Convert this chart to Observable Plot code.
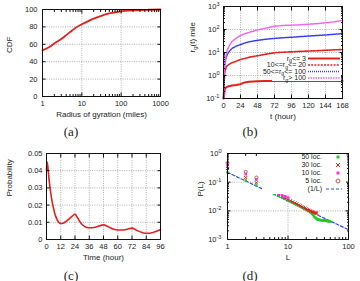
<!DOCTYPE html>
<html>
<head>
<meta charset="utf-8">
<script src="https://cdn.jsdelivr.net/npm/d3@7"></script>
<script src="https://cdn.jsdelivr.net/npm/@observablehq/plot@0.6"></script>
<style>
  html, body { margin: 0; padding: 0; background: #fff; }
  #fig { position: relative; width: 360px; height: 281px; overflow: hidden; }
  #fig svg { position: absolute; }
  .tag { position: absolute; font-family: "Liberation Serif", "Times New Roman", serif; font-size: 13px; line-height: 1; color: #222; transform: translateX(-50%); white-space: nowrap; }
</style>
</head>
<body>
<div id="fig"></div>
<script>
// (a) cumulative distribution of the radius of gyration
const gyrationMiles = [1, 1.5, 2, 3, 4, 5, 7, 10, 15, 20, 30, 50, 70, 100, 150, 200, 300, 500, 1000];
const gyrationCdf   = [53, 57, 61, 66, 70.5, 74, 79, 83, 87, 89.5, 92.5, 95.5, 96.8, 97.8, 98.6, 99, 99.4, 99.7, 100];

// (b) radius of gyration r_g(t) over time, by final r_g group
const hours    = [0, 1, 2, 4, 6, 9, 12, 18, 24, 30, 36, 48, 60, 72, 84, 96, 108, 120, 132, 144, 156, 168];
const rgUpTo3  = [0.1, 0.15, 0.26, 0.31, 0.33, 0.35, 0.37, 0.39, 0.42, 0.5, 0.53, 0.56, 0.57, 0.57, 0.57, 0.57, 0.57, 0.57, 0.58, 0.58, 0.58, 0.58];
const rg10to20 = [0.1, 0.6, 1.5, 2.4, 2.8, 3.2, 3.6, 4.2, 5.0, 5.5, 6.2, 7.2, 8.5, 9.8, 10.3, 10.7, 11.2, 11.6, 12.0, 12.5, 13.0, 13.5];
const rg50to100 = [0.1, 1.2, 3.5, 6.5, 9, 12, 15, 19, 22, 26, 29, 34, 38, 41, 44, 46, 49, 52, 55, 58, 62, 66];
const rgOver100 = [0.1, 1.5, 4, 9, 14, 22, 30, 42, 55, 65, 75, 95, 115, 140, 150, 155, 160, 170, 180, 195, 215, 250];
const rgGroups = ["r_g<= 3", "10<=r_g<= 20", "50<=r_g<= 100", "r_g> 100"];

// (c) probability of returning after a given time
const returnHours = [0, 0.5, 1, 2, 3, 4, 5, 6, 7, 8, 9, 10, 11, 12, 14, 16, 18, 20, 22, 24, 26, 28, 30, 32, 34, 36, 40, 44, 48, 52, 56, 60, 64, 68, 72, 76, 80, 84, 88, 92, 96];
const returnProb  = [0.040, 0.045, 0.043, 0.036, 0.030, 0.025, 0.021, 0.018, 0.015, 0.013, 0.0115, 0.0102, 0.0096, 0.0093, 0.0095, 0.0103, 0.0114, 0.0126, 0.0138, 0.0147, 0.0128, 0.0105, 0.0087, 0.0076, 0.0070, 0.0068, 0.0070, 0.0078, 0.0085, 0.0074, 0.0061, 0.0055, 0.0055, 0.0060, 0.0066, 0.0053, 0.0042, 0.0036, 0.0038, 0.0046, 0.0058];

// (d) visit probability P(L) of the L-th most visited location (index 0 is L = 1)
const loc50 = [0.22, 0.115, 0.077, 0.058, 0.046, 0.038, 0.033, 0.029, 0.026, 0.023, 0.021, 0.019, 0.0175, 0.0163, 0.0152, 0.0142, 0.0133, 0.0125, 0.0118, 0.0111, 0.0105, 0.0099, 0.0093, 0.0087, 0.0079, 0.0071, 0.0064, 0.0059, 0.0055, 0.0052, 0.0050, 0.0049, 0.0048, 0.0048, 0.0047, 0.0047, 0.0047, 0.0046, 0.0046, 0.0046, 0.0045, 0.0045, 0.0045, 0.0045, 0.0044, 0.0044, 0.0044, 0.0043, 0.0043, 0.0042];
const loc30 = [0.30, 0.145, 0.095, 0.069, 0.054, 0.044, 0.037, 0.032, 0.028, 0.025, 0.0225, 0.0205, 0.0188, 0.0174, 0.0161, 0.015, 0.014, 0.0131, 0.0123, 0.0116, 0.011, 0.0105, 0.0101, 0.0097, 0.0093, 0.009, 0.0088, 0.0086, 0.0084, 0.0082];
const loc10 = [0.39, 0.19, 0.124, 0.09, 0.062, 0.045, 0.039, 0.035, 0.032, 0.029];
const loc5  = [0.47, 0.23, 0.145, 0.103, 0.085];
const zipfL = [1, 100];
const zipfP = [0.22, 0.0022];
const visitGroups = ["50 loc.", "30 loc.", "10 loc.", "5 loc.", "(1/L)"];

// tick values
const cdfTicks = [0, 20, 40, 60, 80, 100];
const radiusTicks = [1, 10, 100, 1000];
const hourTicks = [0, 24, 48, 72, 96, 120, 144, 168];
const rgTicks = [0.1, 1, 10, 100, 1000];
const lagTicks = [0, 12, 24, 36, 48, 60, 72, 84, 96];
const probTicks = [0, 0.01, 0.02, 0.03, 0.04, 0.05];
const rankTicks = [1, 10, 100];
const pTicks = [0.001, 0.01, 0.1, 1];

const FONT = '"Liberation Sans", Arial, Helvetica, sans-serif';
const INK = "#222";
const RED = "#e3201c";
const NS = "http://www.w3.org/2000/svg";

function minorLog(lo, hi) {
  const out = [];
  for (let d = lo; d < hi; d *= 10) for (let k = 2; k <= 9; k++) out.push(d * k);
  return out;
}

// short ticks drawn inside the frame on all four sides
function insideTicks(xs, ys, size) {
  const o = {tickSize: size, tickFormat: () => "", label: null, stroke: "#111"};
  return [
    Plot.axisX(xs, {...o, anchor: "bottom", dy: -size}),
    Plot.axisX(xs, {...o, anchor: "top", dy: size}),
    Plot.axisY(ys, {...o, anchor: "left", dx: size}),
    Plot.axisY(ys, {...o, anchor: "right", dx: -size})
  ];
}

function grid(xs, ys) {
  const g = {stroke: "#999", strokeOpacity: 1, strokeWidth: 0.8, strokeDasharray: "1,1.3"};
  return [Plot.gridX(xs, g), Plot.gridY(ys, g)];
}

function labels(xLabel, yLabel, yDx) {
  return [
    Plot.text([xLabel], {text: d => d, frameAnchor: "bottom", dy: 20, fontSize: 8, fill: INK}),
    Plot.text([yLabel], {text: d => d, frameAnchor: "left", dx: yDx, rotate: -90, fontSize: 8, fill: INK})
  ];
}

function tickLabels(xs, ys, xf, yf, yPad) {
  return [
    Plot.axisX(xs, {anchor: "bottom", tickSize: 0, tickPadding: 4, tickFormat: xf, label: null, fill: INK, fontSize: 7.5}),
    Plot.axisY(ys, {anchor: "left", tickSize: 0, tickPadding: yPad, tickFormat: yf, label: null, fill: INK, fontSize: 7.5})
  ];
}

// sub/superscripts: "r_g" and "10^{-1}"
function richText(el, str, subShift = 2) {
  el.textContent = "";
  const parts = str.split(/([_^]\{[^}]*\}|[_^].)/).filter(s => s);
  let cur = 0;
  for (const p of parts) {
    const t = document.createElementNS(NS, "tspan");
    let target = 0, s = p;
    if (p[0] === "_" || p[0] === "^") {
      s = p[1] === "{" ? p.slice(2, -1) : p.slice(1);
      target = p[0] === "_" ? subShift : -3;
      t.setAttribute("font-size", "75%");
    }
    t.textContent = s;
    if (target !== cur) t.setAttribute("dy", target - cur);
    cur = target;
    el.appendChild(t);
  }
}
function applyRich(svg) {
  svg.querySelectorAll("text").forEach(el => {
    if (el.children.length) return;
    const s = el.textContent;
    if (/[_^]/.test(s)) richText(el, s);
  });
}

const logFmt = d => "10^{" + Math.round(Math.log10(d)) + "}";
const style = {fontFamily: FONT, fontSize: "7.5px", color: INK, background: "transparent", overflow: "visible"};
const fig = document.getElementById("fig");

function place(svg, left, top) {
  svg.style.left = left + "px";
  svg.style.top = top + "px";
  fig.appendChild(svg);
  applyRich(svg);
  return svg;
}

// ---- (a)
const cdfRows = gyrationMiles.map((r, i) => ({r, c: gyrationCdf[i]}));
place(Plot.plot({
  width: 180, height: 140, marginLeft: 42, marginRight: 20, marginTop: 9, marginBottom: 44,
  style,
  x: {type: "log", domain: [1, 1000]},
  y: {domain: [0, 100]},
  marks: [
    ...grid([10, 100], [20, 40, 60, 80]),
    Plot.line(cdfRows, {x: "r", y: "c", stroke: RED, strokeWidth: 1.8, curve: "monotone-x"}),
    ...insideTicks(radiusTicks, cdfTicks, 3.5),
    ...insideTicks(minorLog(1, 1000), [], 2),
    Plot.frame({stroke: "#111"}),
    ...tickLabels(radiusTicks, cdfTicks, d => String(d), d => String(d), 5),
    ...labels("Radius of gyration (miles)", "CDF", -33)
  ]
}), 0, 0);

// ---- (b)
const rgStyles = [
  {stroke: RED, strokeWidth: 2, dash: null},
  {stroke: RED, strokeWidth: 1.6, dash: "2,1.2"},
  {stroke: "#3a3aff", strokeWidth: 1.5, dash: "1,1"},
  {stroke: "#f065f0", strokeWidth: 1.5, dash: "1.5,1"}
];
const rgSeries = [rgUpTo3, rg10to20, rg50to100, rgOver100];
const rgRows = rgSeries.flatMap((vals, g) => hours.map((t, i) => ({t, v: vals[i], g})));
const svgB = place(Plot.plot({
  width: 180, height: 140, marginLeft: 43, marginRight: 18, marginTop: 6, marginBottom: 42,
  style,
  x: {domain: [0, 168]},
  y: {type: "log", domain: [0.1, 1000]},
  marks: [
    ...grid([24, 48, 72, 96, 120, 144], [1, 10, 100]),
    ...rgStyles.map((s, g) => Plot.line(rgRows.filter(d => d.g === g), {
      x: "t", y: "v", stroke: s.stroke, strokeWidth: s.strokeWidth, strokeDasharray: s.dash
    })),
    ...insideTicks(hourTicks, rgTicks, 3.5),
    ...insideTicks([], minorLog(0.1, 1000), 2),
    Plot.frame({stroke: "#111"}),
    ...tickLabels(hourTicks, rgTicks, d => String(d), logFmt, 4),
    ...labels("t (hour)", "r_g(t) mile", -31)
  ]
}), 180, 0);

{
  const g = d3.select(svgB).append("g").attr("font-family", FONT).attr("font-size", 7).attr("fill", INK);
  g.append("rect").attr("x", 92).attr("y", 55).attr("width", 69).attr("height", 26).attr("fill", "#fff");
  rgGroups.forEach((name, i) => {
    const y = 58.5 + i * 6.5;
    const t = g.append("text").attr("x", 126).attr("y", y).attr("dy", "0.35em").attr("text-anchor", "end");
    richText(t.node(), name, 1.5);
    const s = rgStyles[i];
    g.append("line").attr("x1", 128).attr("x2", 160).attr("y1", y).attr("y2", y)
      .attr("stroke", s.stroke).attr("stroke-width", s.strokeWidth).attr("stroke-dasharray", s.dash);
  });
}

// ---- (c)
const returnRows = returnHours.map((t, i) => ({t, p: returnProb[i]}));
place(Plot.plot({
  width: 180, height: 141, marginLeft: 46, marginRight: 20, marginTop: 13, marginBottom: 42,
  style,
  x: {domain: [0, 96]},
  y: {domain: [0, 0.05]},
  marks: [
    ...grid([12, 24, 36, 48, 60, 72, 84], [0.01, 0.02, 0.03, 0.04]),
    Plot.line(returnRows, {x: "t", y: "p", stroke: RED, strokeWidth: 1.6, curve: "monotone-x"}),
    ...insideTicks(lagTicks, probTicks, 3.5),
    Plot.frame({stroke: "#111"}),
    ...tickLabels(lagTicks, probTicks, d => String(d), d => d === 0 ? "0" : d.toFixed(2), 4),
    ...labels("Time (hour)", "Probability", -37)
  ]
}), 0, 140);

// ---- (d)
const visitStyles = [
  {fill: "#22cc22", stroke: "none", symbol: "square", r: 1.4},
  {fill: "none", stroke: "#e02020", symbol: "times", r: 1.5},
  {fill: "#ee33ee", stroke: "none", symbol: "square", r: 1.5},
  {fill: "none", stroke: "#c05858", symbol: "circle", r: 1.5}
];
const visitSeries = [loc50, loc30, loc10, loc5];
const zipfRows = zipfL.map((l, i) => ({l, p: zipfP[i]}));
const svgD = place(Plot.plot({
  width: 180, height: 141, marginLeft: 47, marginRight: 12, marginTop: 13, marginBottom: 42,
  style,
  x: {type: "log", domain: [1, 100]},
  y: {type: "log", domain: [0.001, 1]},
  marks: [
    ...grid([10], [0.01, 0.1]),
    Plot.line(zipfRows, {x: "l", y: "p", stroke: "#3050e0", strokeWidth: 1.2, strokeDasharray: "3,2"}),
    ...visitSeries.map((vals, g) => Plot.dot(vals.map((p, i) => ({l: i + 1, p})), {
      x: "l", y: "p", symbol: visitStyles[g].symbol, r: visitStyles[g].r,
      fill: visitStyles[g].fill, stroke: visitStyles[g].stroke, strokeWidth: 1
    })),
    ...insideTicks(rankTicks, pTicks, 3.5),
    ...insideTicks(minorLog(1, 100), minorLog(0.001, 1), 2),
    Plot.frame({stroke: "#111"}),
    ...tickLabels(rankTicks, pTicks, d => String(d), logFmt, 6),
    ...labels("L", "P(L)", -27)
  ]
}), 180, 140);

{
  const g = d3.select(svgD).append("g").attr("font-family", FONT).attr("font-size", 7).attr("fill", INK);
  g.append("rect").attr("x", 82).attr("y", 14).attr("width", 84).attr("height", 40).attr("fill", "#fff");
  visitGroups.forEach((name, i) => {
    const y = 17 + i * 8;
    g.append("text").attr("x", 142).attr("y", y).attr("dy", "0.35em").attr("text-anchor", "end").text(name);
    if (i < 4) {
      const s = visitStyles[i];
      const sym = {square: d3.symbolSquare, times: d3.symbolTimes, circle: d3.symbolCircle}[s.symbol];
      g.append("path").attr("transform", `translate(158,${y})`)
        .attr("d", d3.symbol(sym, s.symbol === "square" ? 9 : 12)())
        .attr("fill", s.fill).attr("stroke", s.stroke);
    } else {
      g.append("line").attr("x1", 146).attr("x2", 162).attr("y1", y).attr("y2", y)
        .attr("stroke", "#3050e0").attr("stroke-width", 1.2).attr("stroke-dasharray", "3,2");
    }
  });
}

// panel tags
[["(a)", 71, 125], ["(b)", 250, 125], ["(c)", 71, 269], ["(d)", 250, 269]].forEach(([s, x, y]) => {
  const d = document.createElement("div");
  d.className = "tag";
  d.textContent = s;
  d.style.left = x + "px";
  d.style.top = y + "px";
  fig.appendChild(d);
});
</script>
</body>
</html>
